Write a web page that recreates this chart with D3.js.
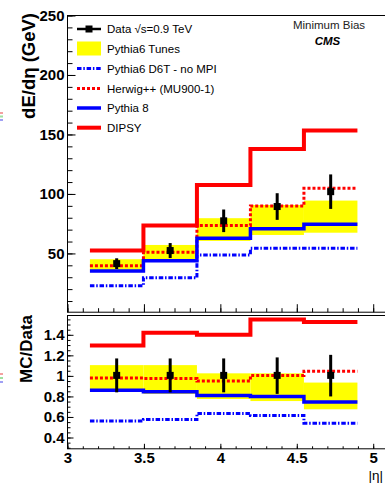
<!DOCTYPE html>
<html><head><meta charset="utf-8">
<script src="https://cdn.jsdelivr.net/npm/d3@7"></script>
<style>
html,body{margin:0;padding:0;background:#fff;}
svg{display:block;font-family:"Liberation Sans",Arial,sans-serif;}
</style></head>
<body>
<svg id="chart" width="385" height="483"></svg>
<script>
// ---------- data ----------
const binEdges = [3.15, 3.5, 3.85, 4.2, 4.55, 4.9];
const binCenters = [3.325, 3.675, 4.025, 4.375, 4.725];

// top panel: dE/deta (GeV)
const dataVals   = [41, 52, 77, 89, 101.5];
const dataErr    = [4.5, 6.3, 9.5, 11.2, 14.5];
const tunesLow   = [35.7, 44.1, 60.1, 65.1, 67];
const tunesHigh  = [44.7, 56.7, 79.2, 90.3, 94];
const d6tNoMPI   = [22.5, 29.2, 48.3, 54, 54];
const herwig     = [39.3, 50.6, 73, 89.5, 104.4];
const pythia8    = [34.9, 43.5, 62.3, 70.4, 74.1];
const dipsy      = [52, 73, 107, 137.4, 153];

// bottom panel: MC/Data
const ratioData      = [1, 1, 1, 1, 1];
const ratioErrLow    = [0.835, 0.835, 0.835, 0.82, 0.795];
const ratioErrHigh   = [1.165, 1.165, 1.165, 1.175, 1.2];
const ratioTunesLow  = [0.84, 0.82, 0.77, 0.75, 0.67];
const ratioTunesHigh = [1.10, 1.10, 1.02, 1.02, 0.93];
const ratioD6T       = [0.555, 0.57, 0.63, 0.61, 0.535];
const ratioHerwig    = [0.975, 0.97, 0.945, 1.0, 1.04];
const ratioPythia8   = [0.855, 0.84, 0.805, 0.795, 0.74];
const ratioDipsy     = [1.29, 1.415, 1.395, 1.545, 1.52];

// ticks / labels
const xTicks = [3, 3.5, 4, 4.5, 5];
const xTickLabels = ["3", "3.5", "4", "4.5", "5"];
const yTopTicks = [50, 100, 150, 200, 250];
const yRatioTicks = [0.4, 0.6, 0.8, 1, 1.2, 1.4];
const yRatioLabels = ["0.4", "0.6", "0.8", "1", "1.2", "1.4"];

const legendLabels = ["Data \u221As=0.9 TeV", "Pythia6 Tunes", "Pythia6 D6T - no MPI",
                      "Herwig++ (MU900-1)", "Pythia 8", "DIPSY"];

// ---------- layout ----------
const svg = d3.select("#chart");
const X0 = 67, X1 = 388;
const topY0 = 15, topY1 = 311.7;
const botY0 = 315, botY1 = 448.3;

const x = d3.scaleLinear().domain([3, 5.1]).range([X0, X1]);
const yTop = d3.scaleLinear().domain([0.6, 250]).range([topY1, topY0]);
const yR = d3.scaleLinear().domain([0.29, 1.588]).range([botY1, botY0]);

const RED = "#ff0000", BLUE = "#0000ff", YEL = "#ffff00";
const DOT = "3,2", DASHDOT = "4.5,1.8,1.5,1.8";

function stepPts(vals) {
  const pts = vals.map((v, i) => ({x: binEdges[i], y: v}));
  pts.push({x: binEdges[binEdges.length - 1], y: vals[vals.length - 1]});
  return pts;
}

function drawPanel(g, y, s) {
  // yellow band
  g.selectAll("rect.band").data(s.low).enter().append("rect")
    .attr("x", (d, i) => x(binEdges[i]))
    .attr("width", (d, i) => x(binEdges[i + 1]) - x(binEdges[i]))
    .attr("y", (d, i) => y(s.high[i]))
    .attr("height", (d, i) => y(s.low[i]) - y(s.high[i]))
    .attr("fill", YEL);
  const line = d3.line().curve(d3.curveStepAfter).x(d => x(d.x)).y(d => y(d.y));
  const series = [
    {v: s.d6t, c: BLUE, w: 3, dash: DASHDOT},
    {v: s.herwig, c: RED, w: 3, dash: DOT},
    {v: s.p8, c: BLUE, w: 3.5, dash: null},
    {v: s.dipsy, c: RED, w: 4, dash: null}
  ];
  series.forEach(se => {
    g.append("path").attr("d", line(stepPts(se.v)))
      .attr("fill", "none").attr("stroke", se.c).attr("stroke-width", se.w)
      .attr("stroke-dasharray", se.dash);
  });
  // data error bars + markers
  g.selectAll("line.err").data(s.data).enter().append("line")
    .attr("x1", (d, i) => x(binCenters[i])).attr("x2", (d, i) => x(binCenters[i]))
    .attr("y1", (d, i) => y(s.errHigh[i])).attr("y2", (d, i) => y(s.errLow[i]))
    .attr("stroke", "#000").attr("stroke-width", 3);
  g.selectAll("rect.mk").data(s.data).enter().append("rect")
    .attr("x", (d, i) => x(binCenters[i]) - 3.5)
    .attr("y", d => y(d) - 3.5)
    .attr("width", 7).attr("height", 7).attr("fill", "#000");
}

// top panel
const gTop = svg.append("g");
drawPanel(gTop, yTop, {
  low: tunesLow, high: tunesHigh, d6t: d6tNoMPI, herwig: herwig, p8: pythia8, dipsy: dipsy,
  data: dataVals, errHigh: dataVals.map((d, i) => d + dataErr[i]), errLow: dataVals.map((d, i) => d - dataErr[i])
});
// bottom panel
const gBot = svg.append("g");
drawPanel(gBot, yR, {
  low: ratioTunesLow, high: ratioTunesHigh, d6t: ratioD6T, herwig: ratioHerwig, p8: ratioPythia8, dipsy: ratioDipsy,
  data: ratioData, errHigh: ratioErrHigh, errLow: ratioErrLow
});

// frames
function frame(y0, y1) {
  svg.append("rect").attr("x", X0 + 0.5).attr("y", y0 + 0.5)
    .attr("width", X1 - X0).attr("height", y1 - y0)
    .attr("fill", "none").attr("stroke", "#000").attr("stroke-width", 1);
}
frame(topY0, topY1);
frame(botY0, botY1);

// axes
function styleAxis(sel) {
  sel.select(".domain").remove();
  sel.selectAll(".tick line").attr("stroke", "#000").attr("stroke-width", 1);
  sel.selectAll("text").attr("font-family", "Liberation Sans, Arial, sans-serif")
    .attr("font-weight", "bold").attr("font-size", 15).attr("fill", "#000");
}
const minorX = d3.range(30, 51).map(d => d / 10);

// top panel x ticks (no labels)
svg.append("g").attr("transform", `translate(0.5,${topY1 + 0.5})`)
  .call(d3.axisBottom(x).tickValues(minorX).tickSize(-4).tickFormat("")).call(styleAxis);
svg.append("g").attr("transform", `translate(0.5,${topY1 + 0.5})`)
  .call(d3.axisBottom(x).tickValues(xTicks).tickSize(-8).tickFormat("")).call(styleAxis);

// bottom panel x ticks with labels
svg.append("g").attr("transform", `translate(0.5,${botY1 + 0.5})`)
  .call(d3.axisBottom(x).tickValues(minorX).tickSize(-2.5).tickFormat("")).call(styleAxis);
svg.append("g").attr("transform", `translate(0.5,${botY1 + 0.5})`)
  .call(d3.axisBottom(x).tickValues(xTicks).tickSize(-5).tickPadding(4)
    .tickFormat((d, i) => xTickLabels[i])).call(styleAxis);

// top y axis
const minorTop = d3.range(10, 251, 10);
svg.append("g").attr("transform", `translate(${X0 + 0.5},0.5)`)
  .call(d3.axisLeft(yTop).tickValues(minorTop).tickSize(-5).tickFormat("")).call(styleAxis);
svg.append("g").attr("transform", `translate(${X0 + 0.5},0.5)`)
  .call(d3.axisLeft(yTop).tickValues(yTopTicks).tickSize(-8).tickPadding(3)
    .tickFormat(d => String(d))).call(styleAxis);

// bottom y axis
const minorR = d3.range(6, 32).map(d => d * 0.05);
svg.append("g").attr("transform", `translate(${X0 + 0.5},0.5)`)
  .call(d3.axisLeft(yR).tickValues(minorR).tickSize(-3).tickFormat("")).call(styleAxis);
svg.append("g").attr("transform", `translate(${X0 + 0.5},0.5)`)
  .call(d3.axisLeft(yR).tickValues(yRatioTicks).tickSize(-6).tickPadding(3)
    .tickFormat((d, i) => yRatioLabels[i])).call(styleAxis);

// axis titles
svg.append("text").attr("transform", "translate(35,13) rotate(-90)")
  .attr("text-anchor", "end").attr("font-weight", "bold").attr("font-size", 18.5)
  .text("dE/d\u03B7 (GeV)");
svg.append("text").attr("transform", "translate(32,315) rotate(-90)")
  .attr("text-anchor", "end").attr("font-weight", "bold").attr("font-size", 17)
  .text("MC/Data");
svg.append("text").attr("x", 383).attr("y", 480).attr("font-size", 13.5)
  .attr("text-anchor", "end").text("|\u03B7|");

// labels top-right
svg.append("text").attr("x", 329).attr("y", 29).attr("text-anchor", "middle")
  .attr("font-size", 11.5).attr("fill", "#222").text("Minimum Bias");
svg.append("text").attr("x", 327.5).attr("y", 45).attr("text-anchor", "middle")
  .attr("font-size", 11.5).attr("font-weight", "bold").attr("font-style", "italic").text("CMS");

// legend
const legY = [29, 48.5, 68.5, 88.5, 108, 127.7];
const lg = svg.append("g");
legendLabels.forEach((t, i) => {
  lg.append("text").attr("x", 107).attr("y", legY[i] + 4.2)
    .attr("font-size", 11.5).attr("fill", "#000").text(t);
});
// data sample
lg.append("line").attr("x1", 77).attr("x2", 101).attr("y1", legY[0]).attr("y2", legY[0])
  .attr("stroke", "#000").attr("stroke-width", 2.5);
lg.append("rect").attr("x", 89 - 3.5).attr("y", legY[0] - 3.5).attr("width", 7).attr("height", 7).attr("fill", "#000");
// tunes sample
lg.append("rect").attr("x", 77).attr("y", legY[1] - 7).attr("width", 24).attr("height", 14).attr("fill", YEL);
// line samples
[[2, BLUE, 3, DASHDOT], [3, RED, 3, DOT], [4, BLUE, 3.5, null], [5, RED, 4, null]].forEach(s => {
  lg.append("line").attr("x1", 77).attr("x2", 101).attr("y1", legY[s[0]]).attr("y2", legY[s[0]])
    .attr("stroke", s[1]).attr("stroke-width", s[2]).attr("stroke-dasharray", s[3]);
});

// faint colored specks at left edge
[[112, "#f4a0a0"], [115.5, "#a0e0a0"], [119, "#a0a0f4"], [373, "#f4a0a0"], [377, "#a0e0a0"], [381, "#a0a0f4"]]
  .forEach(p => svg.append("rect").attr("x", 0).attr("y", p[0]).attr("width", 3).attr("height", 2).attr("fill", p[1]));
</script>
</body></html>
